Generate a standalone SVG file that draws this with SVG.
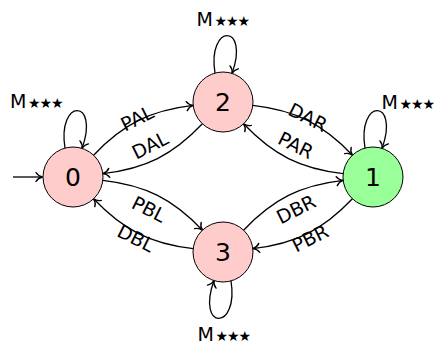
<svg xmlns="http://www.w3.org/2000/svg" width="435" height="344" viewBox="0 0 435 344">
<style>
.st{fill:#ffcccc;stroke:#000;stroke-width:1}
.acc{fill:#99ff99;stroke:#000;stroke-width:1}
.nl{font-family:"DejaVu Sans",sans-serif;font-size:25px;text-anchor:middle;fill:#000}
.el{font-family:"DejaVu Sans",sans-serif;font-size:19px;text-anchor:middle;fill:#000}
.ml{font-family:"DejaVu Sans",sans-serif;font-size:19px;fill:#000}
.sm{font-size:14px;letter-spacing:-1px}
.e{fill:none;stroke:#000;stroke-width:1.3;marker-end:url(#arr)}
</style>
<defs>
<marker id="arr" viewBox="-8 -6 10 12" refX="0" refY="0" markerWidth="10" markerHeight="12" markerUnits="userSpaceOnUse" orient="auto">
<path d="M-6.5,-4.5 C-4.8,-1.7 -2.2,-0.4 0,0 C-2.2,0.4 -4.8,1.7 -6.5,4.5" fill="none" stroke="#000" stroke-width="1.4" stroke-linecap="round"/>
</marker>
</defs>
<g id="connectors">
<path class="e" d="M13,177 L42.5,177"/>
<path class="e" d="M93.6,155.2 C123.2,124.0 150.5,110.3 193.2,105.4"/>
<path class="e" d="M202.4,123.8 C172.8,155.0 145.5,168.7 102.8,173.6"/>
<path class="e" d="M252.8,105.4 C295.5,110.3 322.8,124.0 352.4,155.2"/>
<path class="e" d="M343.2,173.6 C300.5,168.7 273.2,155.0 243.6,123.8"/>
<path class="e" d="M102.8,180.4 C145.5,185.3 172.8,199.0 202.4,230.2"/>
<path class="e" d="M193.2,248.6 C150.5,243.7 123.2,230.0 93.6,198.8"/>
<path class="e" d="M243.6,230.2 C273.2,199.0 300.5,185.3 343.2,180.4"/>
<path class="e" d="M352.4,198.8 C322.8,230.0 295.5,243.7 252.8,248.6"/>
<path class="e" transform="translate(73,177)" d="M-8,-29 C-16,-79 27,-79 9,-28.5"/>
<path class="e" transform="translate(223,102)" d="M-8,-29 C-16,-79 27,-79 9,-28.5"/>
<path class="e" transform="translate(373,177)" d="M-8,-29 C-16,-79 27,-79 9,-28.5"/>
<path class="e" transform="translate(223,252) rotate(180)" d="M-8,-29 C-16,-79 27,-79 9,-28.5"/>
<text class="el" transform="translate(137,118) rotate(-26.57)" y="7">PAL</text>
<text class="el" transform="translate(150,145) rotate(-26.57)" y="7">DAL</text>
<text class="el" transform="translate(308,117) rotate(26.57)" y="7">DAR</text>
<text class="el" transform="translate(296,145) rotate(26.57)" y="7">PAR</text>
<text class="el" transform="translate(149,209) rotate(26.57)" y="7">PBL</text>
<text class="el" transform="translate(136,238) rotate(26.57)" y="7">DBL</text>
<text class="el" transform="translate(296,209) rotate(-26.57)" y="7">DBR</text>
<text class="el" transform="translate(310,238) rotate(-26.57)" y="7">PBR</text>
<text class="ml" x="10" y="108">M<tspan class="sm" dx="1.5">★★★</tspan></text>
<text class="ml" x="196.5" y="26">M<tspan class="sm" dx="1.5">★★★</tspan></text>
<text class="ml" x="381.5" y="108.5">M<tspan class="sm" dx="1.5">★★★</tspan></text>
<text class="ml" x="197.5" y="341">M<tspan class="sm" dx="1.5">★★★</tspan></text>
</g>
<g id="node0"><circle class="st" cx="73" cy="177" r="30"/><text class="nl" x="73" y="186">0</text></g>
<g id="node2"><circle class="st" cx="223" cy="102" r="30"/><text class="nl" x="223" y="111">2</text></g>
<g id="node1"><circle class="acc" cx="373" cy="177" r="30"/><text class="nl" x="373" y="186">1</text></g>
<g id="node3"><circle class="st" cx="223" cy="252" r="30"/><text class="nl" x="223" y="261">3</text></g>
</svg>
